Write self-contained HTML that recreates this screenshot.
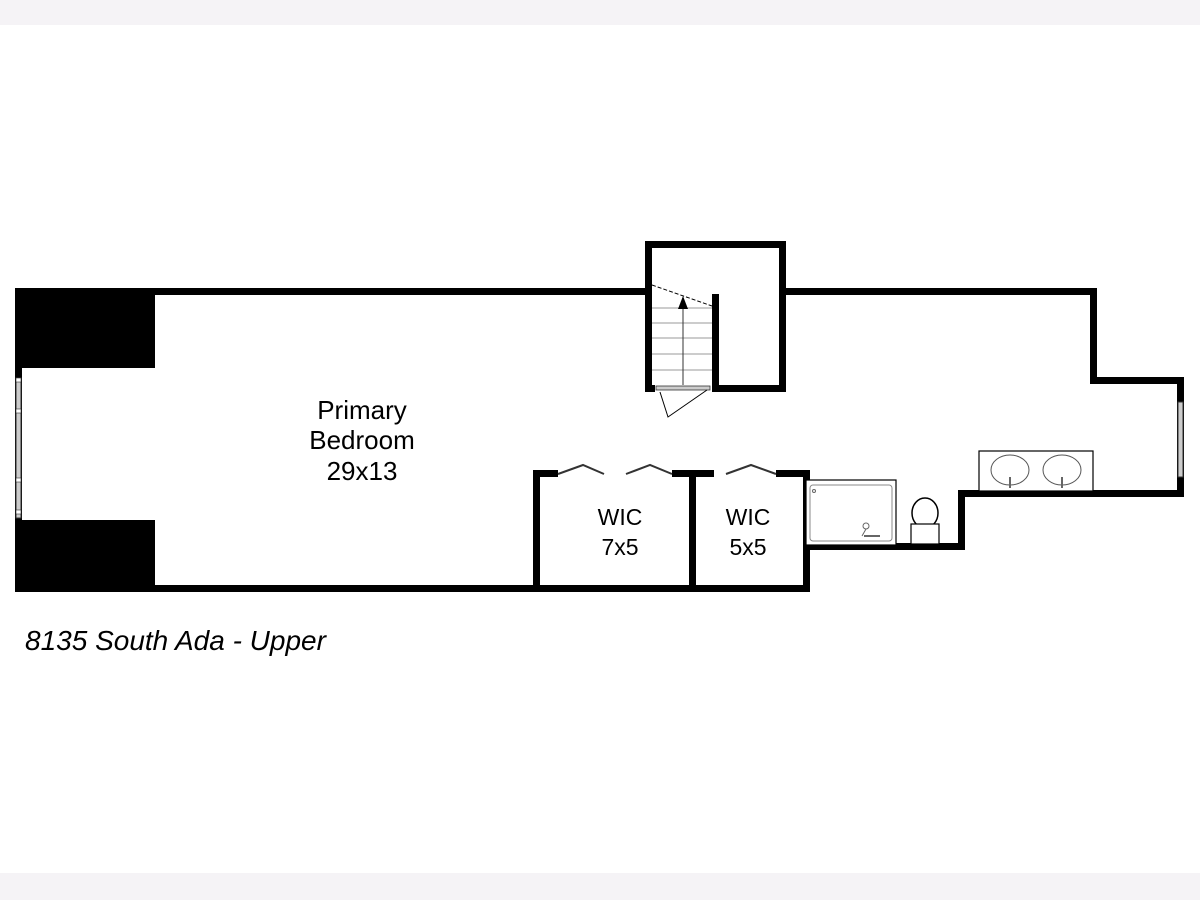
<!DOCTYPE html>
<html><head><style>
html,body{margin:0;padding:0;background:#fff;}
svg{display:block;}
text{font-family:"Liberation Sans",Arial,sans-serif;}
</style></head><body>
<svg width="1200" height="900" viewBox="0 0 1200 900" xmlns="http://www.w3.org/2000/svg">
<rect x="0" y="0" width="1200" height="25" fill="#f5f3f6"/>
<rect x="0" y="873" width="1200" height="27" fill="#f5f3f6"/>
<g fill="#000">
<rect x="15" y="288" width="140" height="80"/>
<rect x="15" y="520" width="140" height="72"/>
<rect x="155" y="288" width="490" height="7"/>
<rect x="786" y="288" width="311" height="7"/>
<rect x="15" y="585" width="795" height="7"/>
<rect x="645" y="241" width="141" height="7"/>
<rect x="645" y="241" width="7" height="151"/>
<rect x="779" y="241" width="7" height="151"/>
<rect x="712" y="294" width="7" height="98"/>
<rect x="712" y="385" width="74" height="7"/>
<rect x="645" y="385" width="10" height="7"/>
<rect x="1090" y="288" width="7" height="96"/>
<rect x="1090" y="377" width="94" height="7"/>
<rect x="1177" y="377" width="7" height="120"/>
<rect x="958" y="490" width="226" height="7"/>
<rect x="958" y="490" width="7" height="60"/>
<rect x="803" y="543" width="162" height="7"/>
<rect x="803" y="470" width="7" height="122"/>
<rect x="533" y="470" width="7" height="122"/>
<rect x="689" y="470" width="7" height="122"/>
<rect x="533" y="470" width="25" height="7"/>
<rect x="672" y="470" width="42" height="7"/>
<rect x="776" y="470" width="34" height="7"/>
</g>
<rect x="15" y="368" width="7" height="152" fill="#000"/>
<rect x="16" y="378" width="5" height="140" fill="#ccc" stroke="#333" stroke-width="1"/>
<g fill="#fff" stroke="#333" stroke-width="0.6">
<rect x="16" y="378" width="5" height="4"/><rect x="16" y="409" width="5" height="4"/><rect x="16" y="478" width="5" height="4"/><rect x="16" y="510" width="5" height="4"/>
</g>
<rect x="1178" y="402" width="5" height="75" fill="#ccc" stroke="#333" stroke-width="1"/>
<g stroke="#999" stroke-width="1">
<line x1="652" y1="308" x2="712" y2="308"/>
<line x1="652" y1="323" x2="712" y2="323"/>
<line x1="652" y1="338" x2="712" y2="338"/>
<line x1="652" y1="354" x2="712" y2="354"/>
<line x1="652" y1="370" x2="712" y2="370"/>
</g>
<line x1="683" y1="385" x2="683" y2="305" stroke="#333"/>
<polygon points="683,296 678,309 688,309" fill="#000"/>
<line x1="652" y1="285" x2="712" y2="306" stroke="#000" stroke-dasharray="4,2"/>
<rect x="656" y="386" width="54" height="4" fill="#ccc" stroke="#333" stroke-width="0.8"/>
<polyline points="660,392 668,417 707,390" fill="none" stroke="#000" stroke-width="1"/>
<g fill="none" stroke="#333" stroke-width="2">
<polyline points="558,474 583,465 604,474"/>
<polyline points="626,474 650,465 672,474"/>
<polyline points="726,474 751,465 776,474"/>
</g>
<rect x="806" y="480" width="90" height="65" fill="#fff" stroke="#000" stroke-width="1.2"/>
<rect x="810" y="485" width="82" height="56" rx="3" fill="none" stroke="#888"/>
<circle cx="814" cy="491" r="1.5" fill="none" stroke="#666"/>
<circle cx="866" cy="526" r="3" fill="none" stroke="#666"/>
<line x1="866" y1="529" x2="862" y2="536" stroke="#666"/>
<line x1="864" y1="536" x2="880" y2="536" stroke="#666" stroke-width="2"/>
<ellipse cx="925" cy="513" rx="13" ry="15" fill="#fff" stroke="#000" stroke-width="1.5"/>
<rect x="911" y="524" width="28" height="20" fill="#fff" stroke="#000" stroke-width="1.2"/>
<rect x="979" y="451" width="114" height="40" fill="#fff" stroke="#000" stroke-width="1.2"/>
<ellipse cx="1010" cy="470" rx="19" ry="15" fill="none" stroke="#555"/>
<ellipse cx="1062" cy="470" rx="19" ry="15" fill="none" stroke="#555"/>
<line x1="1010" y1="477" x2="1010" y2="488" stroke="#666" stroke-width="2"/>
<line x1="1062" y1="477" x2="1062" y2="488" stroke="#666" stroke-width="2"/>
<g font-size="26" text-anchor="middle" fill="#000">
<text x="362" y="419">Primary</text>
<text x="362" y="449">Bedroom</text>
<text x="362" y="480">29x13</text>
</g>
<g font-size="23" text-anchor="middle" fill="#000">
<text x="620" y="525">WIC</text>
<text x="620" y="555">7x5</text>
<text x="748" y="525">WIC</text>
<text x="748" y="555">5x5</text>
</g>
<text x="25" y="650" font-size="28" font-style="italic" fill="#000">8135 South Ada - Upper</text>
</svg>
</body></html>
